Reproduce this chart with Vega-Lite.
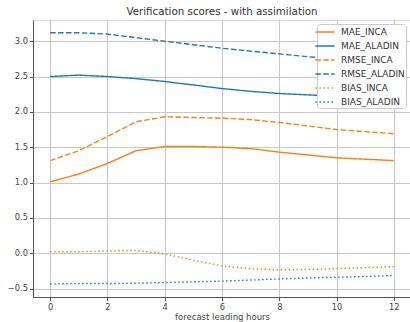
{
  "$schema": "https://vega.github.io/schema/vega-lite/v6.json",
  "width": 378,
  "height": 277,
  "autosize": "none",
  "padding": {"left": 33, "top": 20, "right": 0, "bottom": 25},
  "background": "white",
  "config": {
    "font": "DejaVu Sans",
    "view": {"stroke": "#d6d6d6", "strokeWidth": 1},
    "axis": {
      "labelFont": "DejaVu Sans", "labelFontSize": 8.3, "labelColor": "#444",
      "titleFont": "DejaVu Sans", "titleFontSize": 8.5, "titleFontWeight": "normal", "titleColor": "#444",
      "domainColor": "#555", "domainWidth": 1, "tickColor": "#555", "tickSize": 3.5,
      "gridColor": "#c8c8c8", "gridWidth": 1
    }
  },
  "title": {"text": "Verification scores - with assimilation", "fontSize": 10.3, "fontWeight": "normal", "font": "DejaVu Sans", "color": "#333", "offset": 3},
  "data": {"values": [
    {"h":0,"series":"MAE_INCA","value":1.01},{"h":1,"series":"MAE_INCA","value":1.12},{"h":2,"series":"MAE_INCA","value":1.27},{"h":3,"series":"MAE_INCA","value":1.45},{"h":4,"series":"MAE_INCA","value":1.51},{"h":5,"series":"MAE_INCA","value":1.51},{"h":6,"series":"MAE_INCA","value":1.50},{"h":7,"series":"MAE_INCA","value":1.48},{"h":8,"series":"MAE_INCA","value":1.43},{"h":9,"series":"MAE_INCA","value":1.39},{"h":10,"series":"MAE_INCA","value":1.35},{"h":11,"series":"MAE_INCA","value":1.33},{"h":12,"series":"MAE_INCA","value":1.31},
    {"h":0,"series":"MAE_ALADIN","value":2.50},{"h":1,"series":"MAE_ALADIN","value":2.52},{"h":2,"series":"MAE_ALADIN","value":2.50},{"h":3,"series":"MAE_ALADIN","value":2.47},{"h":4,"series":"MAE_ALADIN","value":2.43},{"h":5,"series":"MAE_ALADIN","value":2.38},{"h":6,"series":"MAE_ALADIN","value":2.33},{"h":7,"series":"MAE_ALADIN","value":2.29},{"h":8,"series":"MAE_ALADIN","value":2.26},{"h":9,"series":"MAE_ALADIN","value":2.24},{"h":10,"series":"MAE_ALADIN","value":2.22},{"h":11,"series":"MAE_ALADIN","value":2.20},{"h":12,"series":"MAE_ALADIN","value":2.18},
    {"h":0,"series":"RMSE_INCA","value":1.31},{"h":1,"series":"RMSE_INCA","value":1.45},{"h":2,"series":"RMSE_INCA","value":1.65},{"h":3,"series":"RMSE_INCA","value":1.86},{"h":4,"series":"RMSE_INCA","value":1.93},{"h":5,"series":"RMSE_INCA","value":1.92},{"h":6,"series":"RMSE_INCA","value":1.91},{"h":7,"series":"RMSE_INCA","value":1.89},{"h":8,"series":"RMSE_INCA","value":1.85},{"h":9,"series":"RMSE_INCA","value":1.80},{"h":10,"series":"RMSE_INCA","value":1.75},{"h":11,"series":"RMSE_INCA","value":1.72},{"h":12,"series":"RMSE_INCA","value":1.69},
    {"h":0,"series":"RMSE_ALADIN","value":3.12},{"h":1,"series":"RMSE_ALADIN","value":3.12},{"h":2,"series":"RMSE_ALADIN","value":3.10},{"h":3,"series":"RMSE_ALADIN","value":3.05},{"h":4,"series":"RMSE_ALADIN","value":3.00},{"h":5,"series":"RMSE_ALADIN","value":2.95},{"h":6,"series":"RMSE_ALADIN","value":2.90},{"h":7,"series":"RMSE_ALADIN","value":2.86},{"h":8,"series":"RMSE_ALADIN","value":2.82},{"h":9,"series":"RMSE_ALADIN","value":2.78},{"h":10,"series":"RMSE_ALADIN","value":2.75},{"h":11,"series":"RMSE_ALADIN","value":2.72},{"h":12,"series":"RMSE_ALADIN","value":2.69},
    {"h":0,"series":"BIAS_INCA","value":0.02},{"h":1,"series":"BIAS_INCA","value":0.02},{"h":2,"series":"BIAS_INCA","value":0.03},{"h":3,"series":"BIAS_INCA","value":0.04},{"h":4,"series":"BIAS_INCA","value":-0.01},{"h":5,"series":"BIAS_INCA","value":-0.10},{"h":6,"series":"BIAS_INCA","value":-0.18},{"h":7,"series":"BIAS_INCA","value":-0.22},{"h":8,"series":"BIAS_INCA","value":-0.235},{"h":9,"series":"BIAS_INCA","value":-0.23},{"h":10,"series":"BIAS_INCA","value":-0.22},{"h":11,"series":"BIAS_INCA","value":-0.205},{"h":12,"series":"BIAS_INCA","value":-0.19},
    {"h":0,"series":"BIAS_ALADIN","value":-0.435},{"h":1,"series":"BIAS_ALADIN","value":-0.43},{"h":2,"series":"BIAS_ALADIN","value":-0.43},{"h":3,"series":"BIAS_ALADIN","value":-0.425},{"h":4,"series":"BIAS_ALADIN","value":-0.415},{"h":5,"series":"BIAS_ALADIN","value":-0.405},{"h":6,"series":"BIAS_ALADIN","value":-0.395},{"h":7,"series":"BIAS_ALADIN","value":-0.38},{"h":8,"series":"BIAS_ALADIN","value":-0.365},{"h":9,"series":"BIAS_ALADIN","value":-0.35},{"h":10,"series":"BIAS_ALADIN","value":-0.34},{"h":11,"series":"BIAS_ALADIN","value":-0.33},{"h":12,"series":"BIAS_ALADIN","value":-0.315}
  ]},
  "mark": {"type": "line", "strokeWidth": 1.4, "interpolate": "linear", "clip": true},
  "encoding": {
    "x": {"field": "h", "type": "quantitative", "title": "forecast leading hours",
      "scale": {"domain": [-0.6, 12.6], "nice": false, "zero": false},
      "axis": {"values": [0,2,4,6,8,10,12], "titlePadding": 2}},
    "y": {"field": "value", "type": "quantitative", "title": null,
      "scale": {"domain": [-0.62, 3.3], "nice": false, "zero": false},
      "axis": {"values": [-0.5,0,0.5,1,1.5,2,2.5,3], "format": ".1f"}},
    "color": {"field": "series", "type": "nominal",
      "scale": {"domain": ["MAE_INCA","MAE_ALADIN","RMSE_INCA","RMSE_ALADIN","BIAS_INCA","BIAS_ALADIN"],
        "range": ["#ff7f0e","#1f77b4","#ff7f0e","#1f77b4","#ff7f0e","#1f77b4"]},
      "legend": {"title": null, "orient": "none", "legendX": 284, "legendY": 4,
        "fillColor": "white", "strokeColor": "#cccccc", "cornerRadius": 3, "padding": 1,
        "labelFont": "DejaVu Sans", "labelFontSize": 9, "labelColor": "#333",
        "symbolType": "M-1.6,0H1.6", "symbolSize": 144, "symbolStrokeWidth": 1.4, "labelOffset": 9, "rowPadding": 2}},
    "strokeDash": {"field": "series", "type": "nominal",
      "scale": {"domain": ["MAE_INCA","MAE_ALADIN","RMSE_INCA","RMSE_ALADIN","BIAS_INCA","BIAS_ALADIN"],
        "range": [[1,0],[1,0],[5.5,2.4],[5.5,2.4],[1.5,2.5],[1.5,2.5]]}}
  }
}
